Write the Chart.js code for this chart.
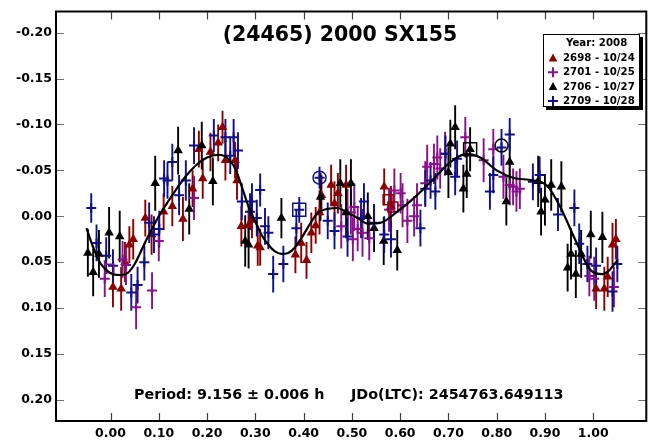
<!DOCTYPE html>
<html><head><meta charset="utf-8">
<script src="https://cdn.jsdelivr.net/npm/chart.js@4.4.1/dist/chart.umd.min.js"></script>
<style>html,body{margin:0;padding:0;background:#fff}#wrap{width:657px;height:444px}</style>
</head><body><div id="wrap"><canvas id="c" width="657" height="444"></canvas></div>
<script>
const titleText = "(24465) 2000 SX155";
const periodText = "Period: 9.156 \u00b1 0.006 h";
const epochText = "JDo(LTC): 2454763.649113";
const legendTitle = "Year: 2008";
const seriesNames = ["2698 - 10/24", "2701 - 10/25", "2706 - 10/27", "2709 - 10/28"];
const xTicks = [0.00, 0.10, 0.20, 0.30, 0.40, 0.50, 0.60, 0.70, 0.80, 0.90, 1.00];
const yTicks = [-0.20, -0.15, -0.10, -0.05, 0.00, 0.05, 0.10, 0.15, 0.20];

// 2698 - 10/24 (dark red triangles)
const s2698Phase = [0.005,0.022,0.030,0.039,0.047,0.072,0.085,0.110,0.128,0.150,0.170,0.183,0.191,0.207,0.223,0.232,0.238,0.258,0.262,0.271,0.286,0.293,0.305,0.310,0.383,0.395,0.406,0.416,0.425,0.433,0.437,0.457,0.464,0.471,0.488,0.567,0.581,1.006,1.023,1.030,1.040,1.047];
const s2698Mag   = [0.077,0.079,0.050,0.031,0.025,0.002,0.020,-0.005,-0.011,0.003,-0.030,-0.073,-0.041,-0.070,-0.080,-0.097,-0.061,-0.061,-0.039,0.011,0.010,0.004,0.032,0.034,0.042,0.029,0.048,0.018,0.010,-0.004,-0.023,-0.034,-0.014,-0.025,-0.034,-0.032,-0.011,0.079,0.079,0.066,0.031,0.025];
const s2698Err   = [0.022,0.024,0.022,0.020,0.022,0.020,0.022,0.020,0.022,0.024,0.020,0.020,0.022,0.021,0.020,0.018,0.022,0.020,0.021,0.022,0.022,0.020,0.022,0.020,0.020,0.022,0.020,0.022,0.020,0.024,0.022,0.022,0.024,0.022,0.022,0.020,0.022,0.022,0.024,0.022,0.024,0.022];

// 2701 - 10/25 (purple plus)
const s2701Phase = [-0.012,0.025,0.032,0.053,0.086,0.100,0.173,0.478,0.491,0.498,0.502,0.505,0.512,0.522,0.536,0.577,0.588,0.601,0.605,0.615,0.629,0.635,0.652,0.656,0.670,0.677,0.683,0.693,0.735,0.773,0.793,0.814,0.827,0.834,0.841,0.848,0.992,1.002,1.043];
const s2701Mag   = [0.068,0.047,0.053,0.099,0.081,0.027,-0.020,0.011,-0.004,-0.004,0.025,-0.010,0.014,0.018,0.024,-0.007,-0.028,-0.025,-0.012,0.005,0.000,-0.012,-0.036,-0.054,-0.057,-0.064,-0.052,-0.068,-0.086,-0.061,-0.073,-0.043,-0.034,-0.032,-0.027,-0.030,0.065,0.068,0.077];
const s2701Err   = [0.020,0.020,0.022,0.024,0.020,0.022,0.024,0.024,0.026,0.024,0.024,0.026,0.024,0.026,0.024,0.024,0.024,0.022,0.024,0.024,0.022,0.024,0.024,0.024,0.022,0.024,0.022,0.024,0.022,0.024,0.022,0.024,0.022,0.020,0.022,0.022,0.022,0.024,0.022];

// 2706 - 10/27 (black triangles)
const s2706Phase = [-0.047,-0.036,-0.024,-0.003,0.019,0.0925,0.140,0.163,0.189,0.212,0.279,0.286,0.354,0.435,0.476,0.488,0.498,0.533,0.546,0.566,0.594,0.700,0.704,0.714,0.731,0.738,0.745,0.820,0.827,0.886,0.892,0.900,0.913,0.934,0.947,0.954,0.964,0.975,0.995,1.019];
const s2706Mag   = [0.040,0.061,0.041,0.018,0.022,-0.036,-0.0715,-0.008,-0.077,-0.038,0.027,0.031,0.002,-0.021,-0.036,-0.004,-0.036,0.000,0.013,0.027,0.037,-0.048,-0.079,-0.097,-0.030,-0.046,-0.073,-0.016,-0.059,-0.038,-0.005,-0.018,-0.034,-0.032,0.056,0.041,0.063,0.041,0.020,0.023];
const s2706Err   = [0.026,0.026,0.026,0.028,0.028,0.030,0.026,0.028,0.026,0.026,0.028,0.026,0.022,0.026,0.026,0.028,0.026,0.026,0.026,0.026,0.022,0.028,0.026,0.024,0.026,0.026,0.024,0.026,0.026,0.028,0.026,0.028,0.028,0.028,0.026,0.028,0.026,0.026,0.026,0.028];

// 2709 - 10/28 (blue plus)
const s2709Phase = [-0.040,-0.029,-0.009,0.005,0.043,0.056,0.070,0.080,0.090,0.101,0.111,0.118,0.128,0.142,0.156,0.173,0.214,0.238,0.248,0.255,0.264,0.272,0.289,0.293,0.303,0.310,0.320,0.327,0.337,0.358,0.385,0.391,0.433,0.450,0.464,0.491,0.519,0.525,0.546,0.567,0.581,0.642,0.652,0.663,0.673,0.694,0.714,0.718,0.786,0.793,0.810,0.827,0.875,0.889,0.927,0.961,0.971,0.988,1.006,1.040,1.050];
const s2709Mag   = [-0.009,0.029,0.043,0.054,0.083,0.075,0.050,0.007,0.020,0.014,-0.041,-0.039,-0.059,-0.023,-0.039,-0.077,-0.088,-0.086,-0.066,-0.086,-0.0715,-0.016,-0.005,-0.016,0.002,-0.0285,0.011,0.018,0.063,0.052,0.013,-0.007,-0.042,0.005,0.016,0.022,0.002,-0.016,0.007,0.020,0.025,0.013,-0.030,-0.039,-0.027,-0.068,-0.043,-0.0625,-0.027,-0.045,-0.075,-0.089,-0.0375,-0.045,-0.002,-0.009,0.030,0.052,0.054,0.082,0.052];
const s2709Err   = [0.016,0.020,0.020,0.018,0.020,0.020,0.020,0.022,0.020,0.020,0.020,0.020,0.020,0.022,0.022,0.020,0.018,0.020,0.020,0.020,0.020,0.020,0.020,0.020,0.020,0.018,0.020,0.018,0.020,0.020,0.020,0.014,0.012,0.020,0.020,0.022,0.022,0.020,0.020,0.020,0.020,0.020,0.020,0.020,0.020,0.020,0.020,0.020,0.020,0.020,0.020,0.018,0.020,0.020,0.018,0.020,0.022,0.020,0.020,0.022,0.020];

// highlighted points (open squares / circles)
const markPhase = [0.391, 0.433, 0.745, 0.810, 0.575, 0.585, -0.002];
const markMag   = [-0.007, -0.042, -0.073, -0.077, -0.018, -0.010, 0.057];
const markStyle = ["rect", "circle", "rect", "circle", "rect", "rect", "rect"];
const markColor = ["#10108b", "#10108b", "#000000", "#000000", "#8b0000", "#8b0000", "#8b108b"];
const markSize  = [9.2, 6.5, 9.2, 6.5, 7, 7, 6];

// fitted Fourier curve
const fitPhase = [-0.050,-0.035,-0.020,0.000,0.020,0.035,0.050,0.073,0.100,0.128,0.155,0.176,0.200,0.224,0.245,0.260,0.272,0.285,0.300,0.315,0.327,0.340,0.354,0.368,0.382,0.400,0.416,0.430,0.450,0.471,0.490,0.512,0.533,0.560,0.594,0.629,0.670,0.704,0.738,0.766,0.800,0.834,0.875,0.903,0.930,0.964,0.995,1.019,1.033,1.050];
const fitMag   = [0.013,0.035,0.052,0.062,0.064,0.062,0.052,0.027,0.000,-0.023,-0.043,-0.055,-0.064,-0.067,-0.062,-0.050,-0.032,-0.012,0.006,0.022,0.031,0.038,0.041,0.040,0.034,0.020,0.006,-0.004,-0.008,-0.009,-0.004,0.002,0.008,0.007,-0.005,-0.020,-0.041,-0.059,-0.068,-0.064,-0.050,-0.042,-0.039,-0.034,-0.012,0.027,0.059,0.063,0.059,0.048];

const series = [
  {name: seriesNames[0], phase: s2698Phase, mag: s2698Mag, err: s2698Err, color: "#8b0000", style: "triangle"},
  {name: seriesNames[1], phase: s2701Phase, mag: s2701Mag, err: s2701Err, color: "#8b108b", style: "cross"},
  {name: seriesNames[2], phase: s2706Phase, mag: s2706Mag, err: s2706Err, color: "#000000", style: "triangle"},
  {name: seriesNames[3], phase: s2709Phase, mag: s2709Mag, err: s2709Err, color: "#10108b", style: "cross"}
];

const tickFont = {family: "DejaVu Sans", weight: "bold", size: 12.5};

const decor = {
  id: "decor",
  beforeDatasetsDraw(chart) {
    const {ctx, chartArea: a, scales: {x, y}} = chart;
    ctx.save();
    ctx.beginPath(); ctx.rect(a.left, a.top, a.right - a.left, a.bottom - a.top); ctx.clip();
    ctx.lineWidth = 1.9;
    series.forEach(s => {
      ctx.strokeStyle = s.color;
      s.phase.forEach((p, i) => {
        const px = x.getPixelForValue(p);
        ctx.beginPath();
        ctx.moveTo(px, y.getPixelForValue(s.mag[i] - s.err[i]));
        ctx.lineTo(px, y.getPixelForValue(s.mag[i] + s.err[i]));
        ctx.stroke();
      });
    });
    ctx.restore();
  },
  afterDraw(chart) {
    const {ctx, chartArea: a, scales: {x, y}} = chart;
    ctx.save();
    // inward ticks
    ctx.lineWidth = 1.2;
    ctx.strokeStyle = "#707070";
    yTicks.forEach(v => {
      const py = Math.round(y.getPixelForValue(v)) + 0.5;
      ctx.beginPath(); ctx.moveTo(a.left, py); ctx.lineTo(a.left + 8, py);
      ctx.moveTo(a.right, py); ctx.lineTo(a.right - 8, py); ctx.stroke();
    });
    ctx.strokeStyle = "#404040";
    xTicks.forEach(v => {
      const px = Math.round(x.getPixelForValue(v)) + 0.5;
      ctx.beginPath(); ctx.moveTo(px, a.top); ctx.lineTo(px, a.top + 8);
      ctx.moveTo(px, a.bottom); ctx.lineTo(px, a.bottom - 8); ctx.stroke();
    });
    // frame
    ctx.lineWidth = 2;
    ctx.strokeStyle = "#000";
    ctx.strokeRect(a.left, a.top, a.right - a.left, a.bottom - a.top);
    // title
    ctx.fillStyle = "#000";
    ctx.textBaseline = "middle";
    ctx.textAlign = "center";
    ctx.font = "bold 20.5px 'DejaVu Sans'";
    ctx.fillText(titleText, 340, 36);
    // bottom text
    ctx.textAlign = "left";
    ctx.font = "bold 14.3px 'DejaVu Sans'";
    ctx.fillText(periodText, 134, 395);
    ctx.fillText(epochText, 351, 395);
    // legend box
    const bx = 543, by = 34, bw = 97, bh = 73;
    ctx.fillStyle = "#000";
    ctx.fillRect(bx + 3, by + 3, bw, bh);
    ctx.fillStyle = "#fff";
    ctx.fillRect(bx, by, bw, bh);
    ctx.lineWidth = 1;
    ctx.strokeStyle = "#000";
    ctx.strokeRect(bx + 0.5, by + 0.5, bw - 1, bh - 1);
    ctx.fillStyle = "#000";
    ctx.font = "bold 10.2px 'DejaVu Sans'";
    ctx.fillText(legendTitle, 566, 43.5);
    series.forEach((s, i) => {
      const ry = 58 + i * 14.3;
      const mx = 553;
      ctx.fillStyle = s.color; ctx.strokeStyle = s.color;
      if (s.style === "triangle") {
        ctx.beginPath(); ctx.moveTo(mx, ry - 4.5); ctx.lineTo(mx + 4.3, ry + 3.5); ctx.lineTo(mx - 4.3, ry + 3.5); ctx.closePath(); ctx.fill();
      } else {
        ctx.lineWidth = 2;
        ctx.beginPath(); ctx.moveTo(mx - 5, ry); ctx.lineTo(mx + 5, ry); ctx.moveTo(mx, ry - 5); ctx.lineTo(mx, ry + 5); ctx.stroke();
      }
      ctx.fillStyle = "#000";
      ctx.fillText(s.name, 563, ry + 0.5);
    });
    ctx.restore();
  }
};

const datasets = series.map((s, k) => ({
  label: s.name,
  type: "scatter",
  data: s.phase.map((p, i) => ({x: p, y: s.mag[i]})),
  pointStyle: s.style,
  pointRadius: s.style === "cross" ? 5 : 5.5,
  pointBorderWidth: s.style === "cross" ? 2 : 0,
  borderColor: s.color,
  backgroundColor: s.color,
  order: 5 - k
}));
datasets.push({
  label: "marks",
  type: "scatter",
  data: markPhase.map((p, i) => ({x: p, y: markMag[i]})),
  pointStyle: markStyle,
  pointRadius: markSize,
  pointBorderWidth: 1.5,
  borderColor: markColor,
  backgroundColor: "rgba(0,0,0,0)",
  order: 1
});
datasets.push({
  label: "fit",
  type: "line",
  data: fitPhase.map((p, i) => ({x: p, y: fitMag[i]})),
  borderColor: "#000",
  borderWidth: 2.2,
  pointRadius: 0,
  cubicInterpolationMode: "monotone",
  fill: false,
  order: 0
});

new Chart(document.getElementById("c"), {
  type: "scatter",
  data: {datasets},
  options: {
    responsive: false,
    animation: false,
    devicePixelRatio: 1,
    layout: {padding: {left: 0, right: 6, top: 6, bottom: 0}},
    plugins: {legend: {display: false}, tooltip: {enabled: false}},
    scales: {
      x: {
        type: "linear", min: -0.113, max: 1.110,
        grid: {display: false, drawTicks: false}, border: {display: false},
        afterBuildTicks: s => { s.ticks = xTicks.map(v => ({value: v})); },
        afterFit: s => { s.height = 23; },
        ticks: {font: tickFont, color: "#000", padding: 5, maxRotation: 0, autoSkip: false, callback: v => Number(v).toFixed(2)}
      },
      y: {
        type: "linear", reverse: true, min: -0.223, max: 0.223,
        grid: {display: false, drawTicks: false}, border: {display: false},
        afterBuildTicks: s => { s.ticks = yTicks.map(v => ({value: v})); },
        afterFit: s => { s.width = 56; },
        ticks: {font: tickFont, color: "#000", padding: 4, autoSkip: false, callback: v => Number(v).toFixed(2)}
      }
    }
  },
  plugins: [decor]
});
</script>
</body></html>
